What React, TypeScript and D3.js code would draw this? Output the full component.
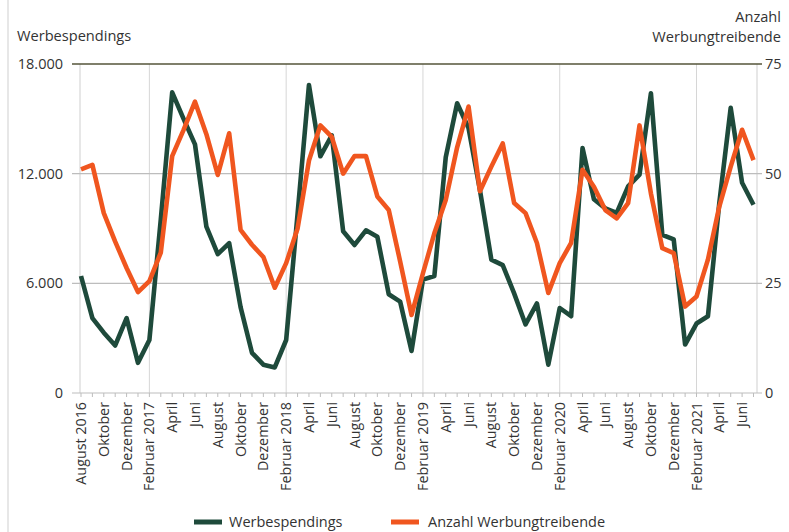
import React from "react";
import * as d3 from "d3";

const months: string[] = [
  "2016-08","2016-09","2016-10","2016-11","2016-12",
  "2017-01","2017-02","2017-03","2017-04","2017-05","2017-06","2017-07","2017-08","2017-09","2017-10","2017-11","2017-12",
  "2018-01","2018-02","2018-03","2018-04","2018-05","2018-06","2018-07","2018-08","2018-09","2018-10","2018-11","2018-12",
  "2019-01","2019-02","2019-03","2019-04","2019-05","2019-06","2019-07","2019-08","2019-09","2019-10","2019-11","2019-12",
  "2020-01","2020-02","2020-03","2020-04","2020-05","2020-06","2020-07","2020-08","2020-09","2020-10","2020-11","2020-12",
  "2021-01","2021-02","2021-03","2021-04","2021-05","2021-06","2021-07",
];

const werbespendings: number[] = [
  6400, 4100, 3300, 2600, 4100,
  1650, 2900, 9500, 16450, 15000, 13600, 9100, 7600, 8200, 4700, 2200, 1550,
  1400, 2900, 9800, 16850, 12950, 14100, 8850, 8100, 8900, 8550, 5400, 5000,
  2300, 6200, 6400, 12900, 15850, 14500, 11100, 7300, 7000, 5450, 3750, 4900,
  1550, 4650, 4200, 13400, 10600, 10100, 9850, 11300, 11950, 16400, 8650, 8400,
  2650, 3800, 4200, 10400, 15600, 11500, 10300,
];

const werbungtreibende: number[] = [
  51, 52, 41, 34.5, 28.5,
  23, 25.5, 32, 54, 60, 66.4, 59, 49.7, 59.2, 37.2, 33.8, 31,
  24, 29.6, 37.5, 53, 61, 58.4, 50, 54, 54, 44.8, 41.7, 30,
  17.8, 27.3, 36.4, 44, 56, 65.3, 46, 51.6, 56.9, 43.3, 41, 34.2,
  22.8, 29.6, 34.2, 50.9, 47, 41.7, 39.8, 43.3, 61, 45.5, 33, 31.9,
  19.7, 22, 30.4, 42.5, 51.6, 60, 53.1,
];

const tickLabels: string[] = [
  "August 2016","Oktober","Dezember","Februar 2017","April","Juni","August","Oktober","Dezember",
  "Februar 2018","April","Juni","August","Oktober","Dezember",
  "Februar 2019","April","Juni","August","Oktober","Dezember",
  "Februar 2020","April","Juni","August","Oktober","Dezember",
  "Februar 2021","April","Juni",
];

const leftTicks: number[] = [0, 6000, 12000, 18000];
const rightTicks: number[] = [0, 25, 50, 75];

const seriesNames: string[] = ["Werbespendings", "Anzahl Werbungtreibende"];

const GREEN = "#1e4a3b";
const ORANGE = "#f0561f";
const TXT = "#333333";
const FONT = "'Open Sans', 'Noto Sans', sans-serif";

export default function App() {
  const W = 789, H = 532;
  const left = 80, right = 757, top = 64, bottom = 393;
  const x = d3.scaleLinear().domain([0, months.length - 1]).range([81, 753.5]);
  const yL = d3.scaleLinear().domain([0, 18000]).range([bottom, top]);
  const yR = d3.scaleLinear().domain([0, 75]).range([bottom, top]);

  const lineL = d3.line<number>().x((_, i) => x(i)).y((d) => yL(d)).curve(d3.curveLinear);
  const lineR = d3.line<number>().x((_, i) => x(i)).y((d) => yR(d)).curve(d3.curveLinear);

  const fmt = (v: number) => d3.format(",")(v).replace(/,/g, ".");
  const febIdx = months.map((m, i) => (m.endsWith("-02") ? i : -1)).filter((i) => i >= 0);

  return (
    <svg width={W} height={H} style={{ position: "absolute", left: 0, top: 0, background: "#fff" }}
      fontFamily={FONT}>
      <rect x={0} y={0} width={W} height={H} fill="#fff" />
      <line x1={8} x2={8} y1={0} y2={H} stroke="#cfcfcf" strokeWidth={1} />

      {/* axis titles */}
      <text x={17} y={41} fontSize={14.6} fill={TXT}>Werbespendings</text>
      <text x={781} y={22} fontSize={14.6} fill={TXT} textAnchor="end">Anzahl</text>
      <text x={781} y={42} fontSize={14.6} fill={TXT} textAnchor="end">Werbungtreibende</text>

      {/* vertical gridlines at February */}
      {febIdx.map((i) => (
        <line key={"v" + i} x1={x(i)} x2={x(i)} y1={top} y2={bottom} stroke="#d6d6d6" strokeWidth={1} />
      ))}
      {/* left / right axis lines */}
      <line x1={left} x2={left} y1={top} y2={bottom} stroke="#cfcfcf" strokeWidth={1} />
      <line x1={right} x2={right} y1={top} y2={bottom} stroke="#cfcfcf" strokeWidth={1} />

      {/* horizontal gridlines */}
      {leftTicks.map((t) => (
        <g key={"h" + t}>
          <line x1={left - 8} x2={right + 5} y1={yL(t)} y2={yL(t)}
            stroke={t === 18000 ? "#55553a" : "#bdbdbd"} strokeWidth={t === 18000 ? 1.6 : 1.2} />
          <text x={63} y={yL(t)} dy="0.35em" fontSize={14.5} fill={TXT} textAnchor="end">{fmt(t)}</text>
        </g>
      ))}
      {rightTicks.map((t) => (
        <text key={"r" + t} x={765} y={yR(t)} dy="0.35em" fontSize={14.5} fill={TXT}>{t}</text>
      ))}

      {/* bottom month ticks */}
      {months.map((m, i) => (
        <line key={"t" + m} x1={x(i)} x2={x(i)} y1={bottom} y2={bottom + 4} stroke="#bdbdbd" strokeWidth={1} />
      ))}

      {/* x tick labels */}
      {tickLabels.map((lab, k) => {
        const xi = x(k * 2);
        return (
          <text key={"xl" + k} transform={`translate(${xi},${bottom + 9}) rotate(-90)`} dy="0.35em"
            fontSize={14.3} fill={TXT} textAnchor="end">{lab}</text>
        );
      })}

      {/* lines */}
      <path d={lineL(werbespendings) || ""} fill="none" stroke={GREEN} strokeWidth={4.6} strokeLinejoin="round" />
      <path d={lineR(werbungtreibende) || ""} fill="none" stroke={ORANGE} strokeWidth={4.6} strokeLinejoin="round" />

      {/* legend */}
      <line x1={194} x2={222} y1={522} y2={522} stroke={GREEN} strokeWidth={5} />
      <text x={229} y={522} dy="0.35em" fontSize={14.5} fill={TXT}>{seriesNames[0]}</text>
      <line x1={391} x2={419} y1={522} y2={522} stroke={ORANGE} strokeWidth={5} />
      <text x={428} y={522} dy="0.35em" fontSize={14.5} fill={TXT}>{seriesNames[1]}</text>
    </svg>
  );
}
